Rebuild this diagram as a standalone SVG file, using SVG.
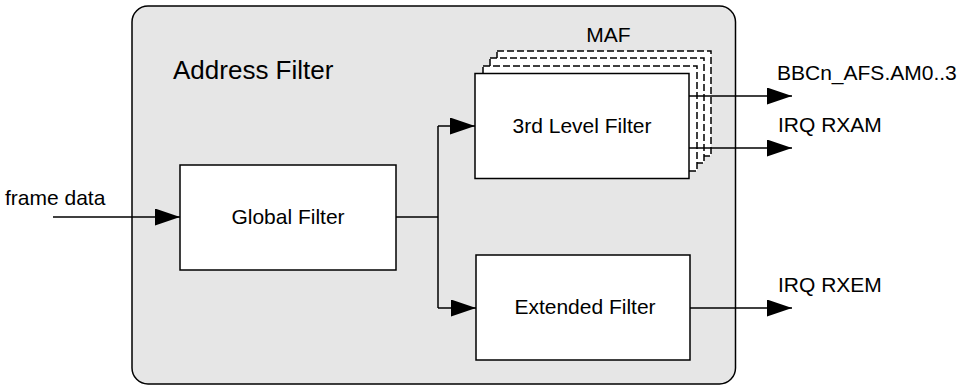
<svg xmlns="http://www.w3.org/2000/svg" width="959" height="387" viewBox="0 0 959 387">
<style>
text{font-family:"Liberation Sans",Arial,sans-serif;fill:#000}
.box{fill:#fff;stroke:#000;stroke-width:1.5}
.dash{fill:#fff;stroke:#000;stroke-width:1.5;stroke-dasharray:7 3}
.ln{fill:none;stroke:#000;stroke-width:1.5}
.lbl{font-size:21px;text-anchor:middle}
.out{font-size:21px}
</style>
<defs>
<marker id="ah" markerUnits="userSpaceOnUse" markerWidth="26" markerHeight="18" refX="25" refY="8.5" orient="auto">
<path d="M0,0 L25,8.5 L0,17 z" fill="#000"/>
</marker>
</defs>
<g id="address-filter">
<rect x="132" y="6" width="603.5" height="378" rx="16" fill="#e6e6e6" stroke="#000" stroke-width="1.5"/>
<text x="173" y="79" font-size="26">Address Filter</text>
</g>
<g id="maf">
<rect class="dash" x="497" y="51" width="214" height="105"/>
<rect class="dash" x="490" y="58" width="214" height="105"/>
<rect class="dash" x="483" y="66" width="214" height="105"/>
<text class="lbl" x="608.5" y="42">MAF</text>
</g>
<g id="third-level-filter">
<rect class="box" x="475" y="73.5" width="214" height="105"/>
<text class="lbl" x="582" y="133">3rd Level Filter</text>
</g>
<g id="global-filter">
<rect class="box" x="180" y="165" width="216" height="105"/>
<text class="lbl" x="288" y="224">Global Filter</text>
</g>
<g id="extended-filter">
<rect class="box" x="476" y="255" width="214" height="105"/>
<text class="lbl" x="585" y="314">Extended Filter</text>
</g>
<g id="connectors">
<path class="ln" d="M53,217 H180" marker-end="url(#ah)"/>
<path class="ln" d="M396,217 H438"/>
<path class="ln" d="M438,126 V308"/>
<path class="ln" d="M438,126 H475" marker-end="url(#ah)"/>
<path class="ln" d="M438,308 H476" marker-end="url(#ah)"/>
<path class="ln" d="M689,96 H792" marker-end="url(#ah)"/>
<path class="ln" d="M689,148 H792" marker-end="url(#ah)"/>
<path class="ln" d="M690,308 H792" marker-end="url(#ah)"/>
</g>
<g id="labels">
<text class="out" x="5" y="205">frame data</text>
<text class="out" x="777" y="80">BBCn_AFS.AM0..3</text>
<text class="out" x="778" y="132">IRQ RXAM</text>
<text class="out" x="778" y="292">IRQ RXEM</text>
</g>
</svg>
